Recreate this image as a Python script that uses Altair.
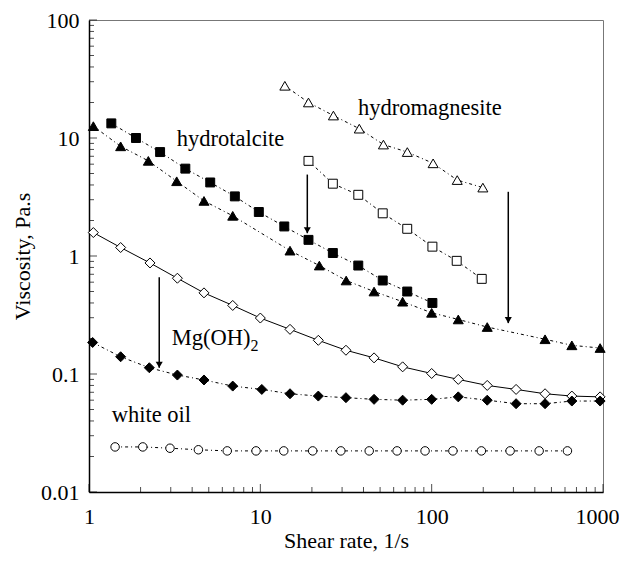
import altair as alt
import pandas as pd

# ---- data ----
hm_x = [13.9, 19.1, 26.7, 37.8, 52.3, 72.1, 102, 141, 199]
hm_y = [27.7, 20.0, 15.5, 12.0, 8.8, 7.6, 6.1, 4.4, 3.8]

hm2_x = [19.1, 26.5, 37.3, 51.8, 72, 101, 140, 196]
hm2_y = [6.4, 4.1, 3.3, 2.3, 1.7, 1.2, 0.91, 0.64]

ht_x = [1.35, 1.88, 2.6, 3.65, 5.1, 7.1, 9.8, 13.8, 19.1, 26.5, 37.3, 51.8, 72, 101]
ht_y = [13.3, 10.0, 7.6, 5.5, 4.2, 3.2, 2.36, 1.78, 1.37, 1.06, 0.83, 0.62, 0.50, 0.40]

ht2_x = [1.06, 1.53, 2.22, 3.25, 4.69, 6.9, 14.9, 22.1, 31.7, 46.1, 67.7, 100, 143, 211, 459, 658, 962]
ht2_y = [12.6, 8.5, 6.4, 4.3, 2.93, 2.19, 1.11, 0.83, 0.62, 0.50, 0.41, 0.33, 0.29, 0.25, 0.197, 0.175, 0.166]

mg_x = [1.06, 1.53, 2.27, 3.28, 4.69, 6.9, 10.0, 14.9, 21.8, 31.6, 46.1, 67.7, 100, 143, 211, 311, 459, 658, 962]
mg_y = [1.58, 1.18, 0.873, 0.648, 0.487, 0.381, 0.298, 0.239, 0.193, 0.159, 0.137, 0.115, 0.101, 0.090, 0.080, 0.074, 0.068, 0.065, 0.064]

mg2_x = [1.05, 1.53, 2.25, 3.28, 4.69, 6.9, 10.2, 14.9, 21.8, 31.6, 46.1, 67.7, 100, 143, 211, 311, 459, 658, 962]
mg2_y = [0.185, 0.140, 0.113, 0.098, 0.089, 0.079, 0.074, 0.068, 0.065, 0.063, 0.061, 0.060, 0.061, 0.064, 0.060, 0.056, 0.056, 0.059, 0.059]

wo_x = [1.42, 2.06, 2.97, 4.35, 6.41, 9.44, 13.7, 20.2, 29.5, 43.2, 62.8, 91.5, 133, 195, 287, 424, 620]
wo_y = [0.0241, 0.0241, 0.0235, 0.0228, 0.0223, 0.0223, 0.0223, 0.0223, 0.0223, 0.0223, 0.0223, 0.0223, 0.0223, 0.0223, 0.0223, 0.0223, 0.0223]

x_labels = [1, 10, 100, 1000]
y_labels = [0.01, 0.1, 1, 10, 100]
x_minor = [2, 3, 4, 5, 6, 7, 8, 9, 20, 30, 40, 50, 60, 70, 80, 90, 200, 300, 400, 500, 600, 700, 800, 900]
y_minor = [0.02, 0.03, 0.04, 0.05, 0.06, 0.07, 0.08, 0.09, 0.2, 0.3, 0.4, 0.5, 0.6, 0.7, 0.8, 0.9,
           2, 3, 4, 5, 6, 7, 8, 9, 20, 30, 40, 50, 60, 70, 80, 90]

# arrows: x, y_start, y_end
arrows_x = [18.8, 280, 2.57]
arrows_y1 = [4.9, 3.5, 0.66]
arrows_y2 = [1.56, 0.27, 0.113]

# labels
lab_text = ["hydrotalcite", "hydromagnesite", "Mg(OH)", "white oil"]
lab_x = [3.25, 37.2, 3.04, 1.357]
lab_y = [9.9, 18.1, 0.20, 0.045]

W, H = 514, 472
FONT = "Liberation Serif"
FS = 22
FS_LAB = 22.5

xs = alt.Scale(type="log", domain=[1, 1000], nice=False)
ys = alt.Scale(type="log", domain=[0.01, 100], nice=False)


def series(xv, yv, shape, filled, dash, size):
    df = pd.DataFrame({"x": xv, "y": yv})
    base = alt.Chart(df)
    if dash is not None:
        line = base.mark_line(color="black", strokeWidth=1, strokeDash=dash, clip=True)
    else:
        line = base.mark_line(color="black", strokeWidth=1, clip=True)
    line = line.encode(x=alt.X("x:Q", scale=xs), y=alt.Y("y:Q", scale=ys))
    pts = base.mark_point(
        shape=shape, filled=True, size=size,
        fill="black" if filled else "white", stroke="black", strokeWidth=1, opacity=1,
    ).encode(x=alt.X("x:Q", scale=xs), y=alt.Y("y:Q", scale=ys))
    return [line, pts]


DOT = [3, 3, 1, 3]
layers = []
layers += series(wo_x, wo_y, "circle", False, DOT, 72)
layers += series(mg_x, mg_y, "diamond", False, None, 100)
layers += series(mg2_x, mg2_y, "diamond", True, DOT, 100)
layers += series(ht_x, ht_y, "square", True, DOT, 80)
layers += series(ht2_x, ht2_y, "triangle-up", True, DOT, 100)
layers += series(hm_x, hm_y, "triangle-up", False, DOT, 100)
layers += series(hm2_x, hm2_y, "square", False, DOT, 80)

# arrows
adf = pd.DataFrame({"x": arrows_x, "y1": arrows_y1, "y2": arrows_y2})
layers.append(alt.Chart(adf).mark_rule(color="black", strokeWidth=1.5).encode(
    x=alt.X("x:Q", scale=xs), y=alt.Y("y1:Q", scale=ys), y2="y2:Q"))
layers.append(alt.Chart(adf).mark_point(shape="triangle-down", filled=True, color="black",
                                        size=50, opacity=1, yOffset=-3).encode(
    x=alt.X("x:Q", scale=xs), y=alt.Y("y2:Q", scale=ys)))

# text labels
ldf = pd.DataFrame({"t": lab_text, "x": lab_x, "y": lab_y})
layers.append(alt.Chart(ldf).mark_text(font=FONT, fontSize=FS_LAB, align="left", baseline="middle",
                                       color="black").encode(
    x=alt.X("x:Q", scale=xs), y=alt.Y("y:Q", scale=ys), text="t:N"))
layers.append(alt.Chart(pd.DataFrame({"t": ["2"], "x": [8.75], "y": [0.172]})).mark_text(
    font=FONT, fontSize=16, align="left", baseline="middle", color="black").encode(
    x=alt.X("x:Q", scale=xs), y=alt.Y("y:Q", scale=ys), text="t:N"))

# inward ticks
xt = pd.DataFrame({"v": x_labels + x_minor, "L": [8] * len(x_labels) + [5] * len(x_minor)})
yt = pd.DataFrame({"v": y_labels + y_minor, "L": [8] * len(y_labels) + [5] * len(y_minor)})
layers.append(alt.Chart(xt[xt.L == 8]).mark_tick(orient="vertical", size=8, thickness=1, color="black").encode(
    x=alt.X("v:Q", scale=xs), y=alt.value(H - 4)))
layers.append(alt.Chart(xt[xt.L == 5]).mark_tick(orient="vertical", size=5, thickness=1, color="black").encode(
    x=alt.X("v:Q", scale=xs), y=alt.value(H - 2.5)))
layers.append(alt.Chart(yt[yt.L == 8]).mark_tick(orient="horizontal", size=8, thickness=1, color="black").encode(
    y=alt.Y("v:Q", scale=ys), x=alt.value(4)))
layers.append(alt.Chart(yt[yt.L == 5]).mark_tick(orient="horizontal", size=5, thickness=1, color="black").encode(
    y=alt.Y("v:Q", scale=ys), x=alt.value(2.5)))

axis_common = dict(ticks=False, grid=False, labelFlush=False,
                   domainColor="black", domainWidth=1.5,
                   labelFont=FONT, labelFontSize=FS, titleFont=FONT, titleFontSize=FS,
                   titleFontWeight="normal", labelColor="black", titleColor="black")

axis_layer = alt.Chart(pd.DataFrame({"x": [1], "y": [1]})).mark_point(opacity=0).encode(
    x=alt.X("x:Q", scale=xs, title="Shear rate, 1/s",
            axis=alt.Axis(values=x_labels, format="~g", labelPadding=14, titlePadding=3,
                          labelOffset={"condition": {"test": "datum.value >= 1000", "value": -6}, "value": 0},
                          **axis_common)),
    y=alt.Y("y:Q", scale=ys, title="Viscosity, Pa.s",
            axis=alt.Axis(values=y_labels, format="~g", labelPadding=10, titlePadding=6, **axis_common)),
)

chart = alt.layer(axis_layer, *layers).properties(
    width=W, height=H,
    autosize=alt.AutoSizeParams(type="none"),
    padding={"left": 81, "top": 12, "right": 16, "bottom": 62},
).configure_view(stroke="#777777", strokeWidth=1)

chart.save("out.html", embed_options={"renderer": "svg", "actions": False})
